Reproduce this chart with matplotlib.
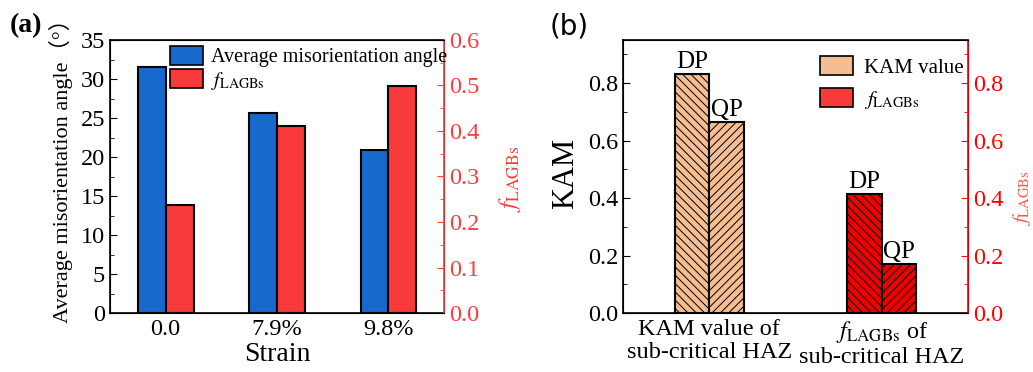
import numpy as np
import matplotlib.pyplot as plt
from matplotlib.patches import Patch
from matplotlib.ticker import MultipleLocator

# panel (a)
strain = ['0.0', '7.9%', '9.8%']
mis_angle = [31.6, 25.7, 20.9]
f_lagbs_a = [0.237, 0.411, 0.499]

# panel (b)
groups_b = ['KAM value of\nsub-critical HAZ', '$f_{\\mathrm{LAGBs}}$ of\nsub-critical HAZ']
dp_vals = [0.830, 0.414]
qp_vals = [0.664, 0.170]
dp_qp = ['DP', 'QP']

plt.rcParams['font.family'] = ['Liberation Serif', 'Noto Sans CJK SC']
plt.rcParams['mathtext.fontset'] = 'stix'
plt.rcParams['hatch.linewidth'] = 0.7

blue = '#1769CC'
red = '#F83A3A'
tan = '#F5BE92'
bred = '#EE0000'
axred = '#FF3B3B'

fig = plt.figure(figsize=(10.33, 3.72), dpi=100)

# ---------------- (a)
ax = fig.add_axes([110/1033, 1-313/372, 334/1033, 273/372])
x = np.arange(len(strain))
w = 0.25
ax.bar(x - w/2, mis_angle, w, color=blue, edgecolor='black', linewidth=1.5, zorder=3)
ax.set_xlim(-0.5, 2.5)
ax.set_ylim(0, 35)
ax.set_xticks(x)
ax.set_xticklabels(strain)
ax.tick_params(axis='x', length=0, labelsize=17.5, pad=4)
ax.yaxis.set_major_locator(MultipleLocator(5))
ax.yaxis.set_minor_locator(MultipleLocator(2.5))
ax.tick_params(axis='y', which='both', direction='in', labelsize=17.5)
ax.tick_params(axis='y', which='major', length=5)
ax.tick_params(axis='y', which='minor', length=3)
ax.set_xlabel('Strain', fontsize=20, labelpad=2)
ax.set_ylabel('Average misorientation angle（°）', fontsize=16)
ax.yaxis.set_label_coords(-0.11, 0.54)

ax2 = ax.twinx()
ax2.bar(x + w/2, f_lagbs_a, w, color=red, edgecolor='black', linewidth=1.5, zorder=3)
ax2.set_ylim(0, 0.6)
ax2.yaxis.set_major_locator(MultipleLocator(0.1))
ax2.yaxis.set_minor_locator(MultipleLocator(0.05))
ax2.tick_params(axis='y', which='both', direction='in', colors=axred, labelsize=17.5)
ax2.tick_params(axis='y', which='major', length=5)
ax2.tick_params(axis='y', which='minor', length=3)
ax2.spines['right'].set_color(axred)
ax2.spines['right'].set_linewidth(1.2)
ax2.set_ylabel('$f_{\\mathrm{LAGBs}}$', fontsize=18, color=axred)
ax2.yaxis.set_label_coords(1.16, 0.49)
for sp in ['top', 'left', 'bottom']:
    ax.spines[sp].set_linewidth(1.2)

handles_a = [Patch(facecolor=blue, edgecolor='black', linewidth=1.2, label='Average misorientation angle'),
             Patch(facecolor=red, edgecolor='black', linewidth=1.2, label='$f_{\\mathrm{LAGBs}}$')]
ax2.legend(handles=handles_a, loc='upper left', bbox_to_anchor=(0.175, 0.985), frameon=False,
           fontsize=14.5, handlelength=1.6, handleheight=1.05, handletextpad=0.4,
           labelspacing=0.1, borderaxespad=0.0, borderpad=0.1)
fig.text(10/1033, 1-26/372, '(a)', fontsize=20, fontweight='bold', va='center')

# ---------------- (b)
bx = fig.add_axes([623/1033, 1-313/372, 345/1033, 273/372])
xb = np.arange(len(groups_b))
wb = 0.2
cols = [tan, bred]
for i in range(len(xb)):
    bx.bar(xb[i] - wb/2, dp_vals[i], wb, color=cols[i], edgecolor='black',
           linewidth=1.5, hatch='\\\\\\\\', zorder=3)
    bx.bar(xb[i] + wb/2, qp_vals[i], wb, color=cols[i], edgecolor='black',
           linewidth=1.5, hatch='////', zorder=3)
    bx.text(xb[i] - wb/2, dp_vals[i] + 0.005, dp_qp[0], ha='center', va='bottom', fontsize=18)
    bx.text(xb[i] + wb/2, qp_vals[i] + 0.005, dp_qp[1], ha='center', va='bottom', fontsize=18)
bx.set_xlim(-0.5, 1.5)
bx.set_ylim(0, 0.95)
bx.set_xticks(xb)
bx.set_xticklabels(groups_b, linespacing=1.15)
bx.tick_params(axis='x', length=0, labelsize=17.5, pad=4)
bx.yaxis.set_major_locator(MultipleLocator(0.2))
bx.yaxis.set_minor_locator(MultipleLocator(0.1))
bx.tick_params(axis='y', which='both', direction='in', labelsize=17.5)
bx.tick_params(axis='y', which='major', length=5)
bx.tick_params(axis='y', which='minor', length=3)
bx.set_ylabel('KAM', fontsize=22)
bx.yaxis.set_label_coords(-0.125, 0.51)
for sp in ['top', 'left', 'bottom']:
    bx.spines[sp].set_linewidth(1.2)

bx2 = bx.twinx()
bx2.set_ylim(0, 0.95)
bx2.yaxis.set_major_locator(MultipleLocator(0.2))
bx2.yaxis.set_minor_locator(MultipleLocator(0.1))
bx2.tick_params(axis='y', which='both', direction='in', colors='#FF0000', labelsize=17.5)
bx2.tick_params(axis='y', which='major', length=5)
bx2.tick_params(axis='y', which='minor', length=3)
bx2.spines['right'].set_color('#FF0000')
bx2.spines['right'].set_linewidth(1.2)
bx2.set_ylabel('$f_{\\mathrm{LAGBs}}$', fontsize=15, color='#FF5555')
bx2.yaxis.set_label_coords(1.125, 0.42)

handles_b = [Patch(facecolor=tan, edgecolor='black', linewidth=1.2, label='KAM value'),
             Patch(facecolor=red, edgecolor='black', linewidth=1.2, label='$f_{\\mathrm{LAGBs}}$')]
bx.legend(handles=handles_b, loc='upper left', bbox_to_anchor=(0.565, 0.95), frameon=False,
          fontsize=15, handlelength=1.6, handleheight=1.05, handletextpad=0.5,
          labelspacing=0.5, borderaxespad=0.0, borderpad=0.1)
fig.text(550/1033, 1-26/372, '(b)', fontsize=20, family='DejaVu Sans', va='center')

fig.savefig('out.png', dpi=100)
